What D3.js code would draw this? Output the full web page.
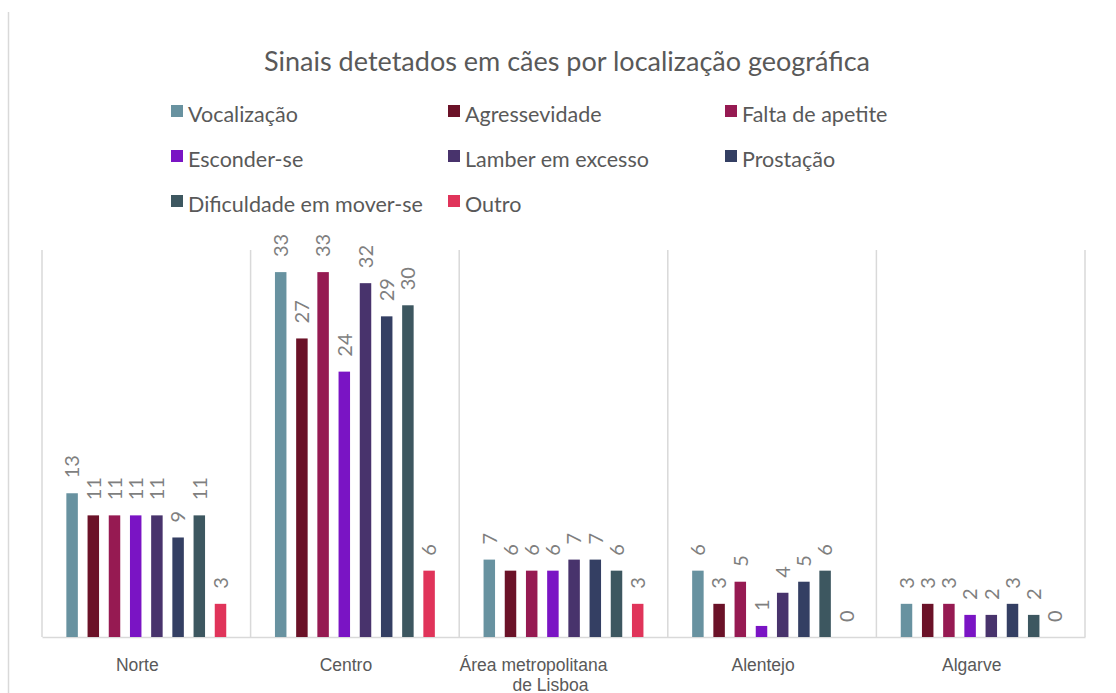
<!doctype html>
<html>
<head>
<meta charset="utf-8">
<title>Sinais detetados em cães por localização geográfica</title>
<style>
body {
  margin: 0;
  background-color: white;
}
svg {
  display: block;
  font-family: Lato, "Open Sans", sans-serif;
}
</style>
</head>
<body>
<svg width="1116" height="693" id="chart"></svg>
<script src="https://d3js.org/d3.v7.min.js"></script>
<script>
// data
var regions = ["Norte", "Centro", "Área metropolitana de Lisboa", "Alentejo", "Algarve"];
var signs = ["Vocalização", "Agressevidade", "Falta de apetite", "Esconder-se",
             "Lamber em excesso", "Prostação", "Dificuldade em mover-se", "Outro"];
var vocalizacao  = [13, 33, 7, 6, 3];
var agressevidade = [11, 27, 6, 3, 3];
var faltaApetite = [11, 33, 6, 5, 3];
var esconderSe   = [11, 24, 6, 1, 2];
var lamber       = [11, 32, 7, 4, 2];
var prostacao    = [9, 29, 7, 5, 3];
var dificuldade  = [11, 30, 6, 6, 2];
var outro        = [3, 6, 3, 0, 0];
var seriesValues = [vocalizacao, agressevidade, faltaApetite, esconderSe,
                    lamber, prostacao, dificuldade, outro];
var colors = ["#6892a0", "#6b1228", "#961a52", "#7a14c4",
              "#48336c", "#343f63", "#3d5760", "#e0345a"];
var yMax = 35;

var svg = d3.select("#chart");

var plotLeft = 42, plotRight = 1085, plotTop = 250, plotBottom = 637;

var x0 = d3.scaleBand().domain(regions).range([plotLeft, plotRight]).padding(0);
var x1 = d3.scaleBand().domain(signs)
    .range([19.5, x0.bandwidth() - 19.5])
    .paddingInner(0.458).paddingOuter(0.229);
var y = d3.scaleLinear().domain([0, yMax]).range([plotBottom, plotTop]);
var color = d3.scaleOrdinal().domain(signs).range(colors);

// chart frame line on the left
svg.append("line")
    .attr("x1", 8.5).attr("x2", 8.5).attr("y1", 12).attr("y2", 693)
    .attr("stroke", "#d9d9d9").attr("stroke-width", 1.5);

// title
svg.append("text")
    .attr("x", 567).attr("y", 71)
    .attr("text-anchor", "middle")
    .attr("fill", "#595959")
    .style("font-size", "27px")
    .text("Sinais detetados em cães por localização geográfica");

// legend
var legend = svg.append("g").attr("class", "legend");
var legItem = legend.selectAll("g")
    .data(signs)
    .enter().append("g")
    .attr("transform", function(d, i) {
      return "translate(" + (171 + (i % 3) * 277) + "," + (105 + Math.floor(i / 3) * 45) + ")";
    });
legItem.append("rect")
    .attr("width", 12).attr("height", 12)
    .attr("fill", function(d) { return color(d); });
legItem.append("text")
    .attr("x", 17).attr("y", 17)
    .attr("fill", "#595959")
    .style("font-size", "21.5px")
    .text(function(d) { return d; });

// category gridlines
svg.append("g")
    .selectAll("line")
    .data(d3.range(regions.length + 1))
    .enter().append("line")
    .attr("x1", function(i) { return plotLeft + i * x0.step(); })
    .attr("x2", function(i) { return plotLeft + i * x0.step(); })
    .attr("y1", plotTop).attr("y2", plotBottom)
    .attr("stroke", "#d9d9d9").attr("stroke-width", 1.5);

// x axis
var xAxis = svg.append("g")
    .attr("transform", "translate(0," + plotBottom + ")")
    .call(d3.axisBottom(x0).tickSize(0).tickPadding(0));
xAxis.select(".domain").attr("stroke", "#d9d9d9").attr("stroke-width", 1.5);
xAxis.selectAll(".tick text").remove();
xAxis.selectAll(".tick").each(function(d) {
  var lines = d === "Área metropolitana de Lisboa"
      ? [["Área metropolitana", -30], ["de Lisboa", -13]] : [[d, -9]];
  var t = d3.select(this).append("text")
      .attr("fill", "#595959")
      .style("font-size", "17.5px")
      .attr("text-anchor", "middle");
  lines.forEach(function(w, k) {
    t.append("tspan").attr("x", w[1]).attr("y", 34 + k * 19.5).text(w[0]);
  });
});

// bars
var groups = svg.append("g").selectAll("g")
    .data(regions)
    .enter().append("g")
    .attr("transform", function(d) { return "translate(" + x0(d) + ",0)"; });

var cells = groups.selectAll("g")
    .data(function(d, ri) {
      return signs.map(function(s, si) { return {sign: s, value: seriesValues[si][ri]}; });
    })
    .enter().append("g");

cells.append("rect")
    .attr("x", function(d) { return x1(d.sign); })
    .attr("width", x1.bandwidth())
    .attr("y", function(d) { return y(d.value); })
    .attr("height", function(d) { return plotBottom - y(d.value); })
    .attr("fill", function(d) { return color(d.sign); });

cells.append("text")
    .attr("transform", function(d) {
      return "translate(" + (x1(d.sign) + x1.bandwidth() / 2) + "," + (y(d.value) - 15) + ") rotate(-90)";
    })
    .attr("dy", "0.36em")
    .attr("fill", "#7f7f7f")
    .style("font-size", "20px")
    .text(function(d) { return d.value; });
</script>
</body>
</html>
